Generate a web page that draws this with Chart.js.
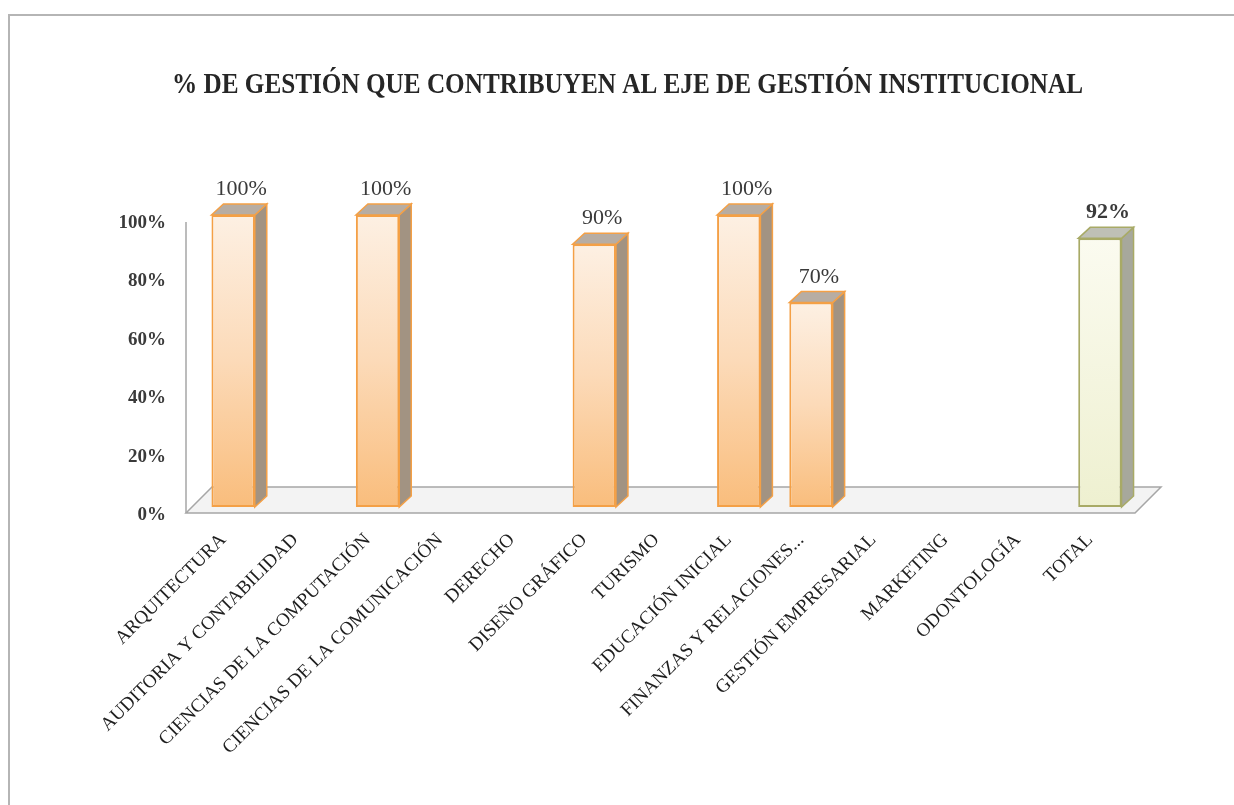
<!DOCTYPE html>
<html><head><meta charset="utf-8">
<script src="https://cdn.jsdelivr.net/npm/chart.js@4.4.0/dist/chart.umd.min.js"></script>
<style>html,body{margin:0;padding:0;background:#fff;} canvas{display:block;}</style>
</head><body>
<canvas id="c" width="1234" height="805"></canvas>
<script>
const chartTitle = '% DE GESTIÓN QUE CONTRIBUYEN AL EJE DE GESTIÓN INSTITUCIONAL';
const categories = ['ARQUITECTURA','AUDITORIA Y CONTABILIDAD','CIENCIAS DE LA COMPUTACIÓN','CIENCIAS DE LA COMUNICACIÓN','DERECHO','DISEÑO GRÁFICO','TURISMO','EDUCACIÓN INICIAL','FINANZAS Y RELACIONES...','GESTIÓN EMPRESARIAL','MARKETING','ODONTOLOGÍA','TOTAL'];
const values = [100, null, 100, null, null, 90, null, 100, 70, null, null, null, 92];
const yTickValues = [0, 20, 40, 60, 80, 100];
const totalCategory = 'TOTAL';

const SERIF = '"Liberation Serif", "DejaVu Serif", serif';
const DX = 12, DY = 11;

function isTotal(i){ return categories[i] === totalCategory; }

function frontFill(ctx){
  const chart = ctx.chart;
  const y = chart.scales && chart.scales.y;
  if (!y || !chart.chartArea) return '#fcd8b0';
  const v = values[ctx.dataIndex];
  if (v == null) return '#fcd8b0';
  const top = y.getPixelForValue(v), base = y.getPixelForValue(0);
  const g = chart.ctx.createLinearGradient(0, top, 0, base);
  if (isTotal(ctx.dataIndex)) {
    g.addColorStop(0, '#fbfbf0');
    g.addColorStop(1, '#eef0d0');
  } else {
    g.addColorStop(0, '#fdf0e3');
    g.addColorStop(0.5, '#fcdab8');
    g.addColorStop(1, '#f9bd7c');
  }
  return g;
}

const deco = {
  id: 'deco',
  beforeDraw(chart){
    const c = chart.ctx;
    c.save();
    c.fillStyle = '#fff'; c.fillRect(0, 0, chart.width, chart.height);
    c.strokeStyle = '#b5b5b5'; c.lineWidth = 2;
    c.beginPath(); c.moveTo(9, chart.height); c.lineTo(9, 15); c.lineTo(chart.width, 15); c.stroke();
    c.restore();
  },
  beforeDatasetsDraw(chart){
    const c = chart.ctx, a = chart.chartArea, y = chart.scales.y;
    const y0 = y.getPixelForValue(0), yTop = y.getPixelForValue(100);
    const fl = a.left - 11, fr = a.right - 1, ff = y0 + 6, fb = y0 - 20, d = 26;
    c.save();
    c.beginPath(); c.moveTo(fl, ff); c.lineTo(fr, ff); c.lineTo(fr + d, fb); c.lineTo(fl + d, fb); c.closePath();
    c.fillStyle = '#f3f3f3'; c.fill();
    c.strokeStyle = '#a6a6a6'; c.lineWidth = 1.5; c.stroke();
    c.beginPath(); c.moveTo(fl, ff); c.lineTo(fl, yTop + 7); c.stroke();
    c.restore();
  },
  afterDatasetsDraw(chart){
    const c = chart.ctx;
    const meta = chart.getDatasetMeta(0);
    meta.data.forEach((el, i) => {
      const v = values[i];
      if (v == null) return;
      const p = el.getProps(['x', 'y', 'base', 'width'], true);
      const left = p.x - p.width / 2, right = p.x + p.width / 2;
      const tot = isTotal(i);
      const border = tot ? '#a8aa66' : '#f4a046';
      c.save();
      c.lineWidth = 1.5; c.strokeStyle = border;
      c.beginPath(); c.moveTo(right, p.y); c.lineTo(right + DX, p.y - DY); c.lineTo(right + DX, p.base - DY); c.lineTo(right, p.base); c.closePath();
      c.fillStyle = tot ? '#a7a89c' : '#a29382'; c.fill(); c.stroke();
      c.beginPath(); c.moveTo(left, p.y); c.lineTo(left + DX, p.y - DY); c.lineTo(right + DX, p.y - DY); c.lineTo(right, p.y); c.closePath();
      c.fillStyle = tot ? '#bfc0b6' : '#b7ada3'; c.fill(); c.stroke();
      c.font = (tot ? 'bold ' : '') + '22px ' + SERIF;
      c.fillStyle = '#3a3a3a'; c.textAlign = 'center'; c.textBaseline = 'alphabetic';
      c.fillText(v + '%', p.x + 8, p.y - 20);
      c.restore();
    });
  },
  afterDraw(chart){
    const c = chart.ctx;
    c.save();
    c.font = 'bold 29px ' + SERIF;
    const w = c.measureText(chartTitle).width;
    c.translate(627.5, 93);
    c.scale(911 / w, 1);
    c.textAlign = 'center'; c.textBaseline = 'alphabetic'; c.fillStyle = '#262626';
    c.fillText(chartTitle, 0, 0);
    c.restore();
  }
};

new Chart(document.getElementById('c'), {
  type: 'bar',
  data: {
    labels: categories,
    datasets: [{
      data: values,
      backgroundColor: frontFill,
      borderColor: ctx => isTotal(ctx.dataIndex) ? '#a8aa66' : '#f4a046',
      borderWidth: 2,
      borderSkipped: false,
      barPercentage: 0.6,
      categoryPercentage: 1
    }]
  },
  plugins: [deco],
  options: {
    responsive: false,
    animation: false,
    devicePixelRatio: 1,
    layout: { padding: { top: 215, left: 0, right: 98, bottom: 0 } },
    plugins: { legend: { display: false }, tooltip: { enabled: false }, title: { display: false } },
    scales: {
      x: {
        grid: { display: false },
        border: { display: false },
        afterFit: s => { s.height = 298; },
        ticks: {
          autoSkip: false, maxRotation: 45, minRotation: 45,
          padding: 14, labelOffset: -10,
          color: '#1e1e1e',
          font: { family: SERIF, size: 19 }
        }
      },
      y: {
        min: 0, max: 100,
        grid: { display: false },
        border: { display: false },
        afterFit: s => { s.width = 197; },
        afterBuildTicks: s => { s.ticks = yTickValues.map(v => ({ value: v })); },
        ticks: {
          padding: 23, labelOffset: 8,
          color: '#3a3a3a',
          font: { family: SERIF, size: 19, weight: 'bold' },
          callback: v => v + '%'
        }
      }
    }
  }
});
</script>
</body></html>
